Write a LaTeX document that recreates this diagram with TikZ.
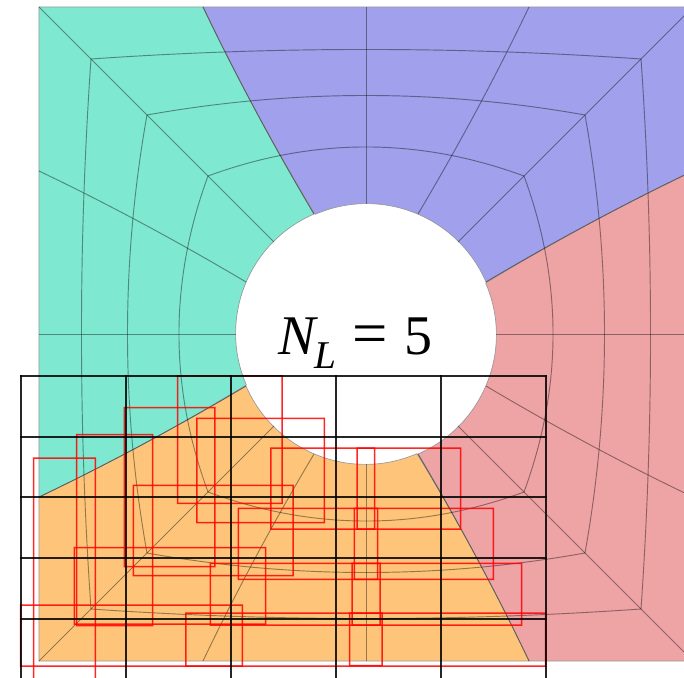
\documentclass[tikz,border=0pt]{standalone}
\usepackage{fontspec}
\setmainfont{Liberation Serif}
\definecolor{regblue}{RGB}{160,160,236}
\definecolor{regred}{RGB}{238,163,165}
\definecolor{regorange}{RGB}{254,197,122}
\definecolor{reggreen}{RGB}{127,232,208}
\tikzset{
  region/.style={draw=black!40,line width=0.5pt},
  meshline/.style={draw=black,draw opacity=0.4,line width=0.7pt},
  redbox/.style={fill=red,fill opacity=0.85,even odd rule},
  gridline/.style={fill=black,fill opacity=0.85},
}
% a red outline 1.5 px wide, from pixel corners of the reference
\newcommand{\redrect}[4]{\fill[redbox]
  ({#1-366-0.75},{334-#2+0.75}) rectangle ({#3-366+0.75},{334-#4-0.75})
  ({#1-366+0.75},{334-#2-0.75}) rectangle ({#3-366-0.75},{334-#4+0.75});}
\begin{document}
\begin{tikzpicture}[x=0.75pt,y=0.75pt]
\useasboundingbox (-366,-343) rectangle (318,334);
\begin{scope}
\clip (-366,-343) rectangle (318,334);
\foreach \rot/\col in {0/regblue,-90/regred,-180/regorange,-270/reggreen}{
  \begin{scope}[rotate=\rot]
    \path[region,fill=\col] (-163,327) -- (327,327) -- (327,163)
      .. controls (258,130) and (189,93) .. (120,52)
      arc[start angle=23.4,end angle=113.4,radius=130]
      .. controls (-93,189) and (-130,258) .. (-163,327) -- cycle;
  \end{scope}
}
\foreach \rot in {0,90,180,270}{
  \begin{scope}[rotate=\rot]
    \draw[meshline] (-275,275) .. controls (-92,287.7) and (92,287.7) .. (275,275);
    \draw[meshline] (-219,219) .. controls (-73,245) and (73,245) .. (219,219);
    \draw[meshline] (-158,158) .. controls (-52.7,196.7) and (52.7,196.7) .. (158,158);
    \draw[meshline] (0,130) -- (0,327);
    \draw[meshline] (92,92) -- (327,327);
    \draw[meshline] (52,120) .. controls (93,189) and (130,258) .. (163,327);
    \draw[meshline] (-52,120) .. controls (-93,189) and (-130,258) .. (-163,327);
  \end{scope}
}
\node[inner sep=0pt,anchor=base west,font=\fontsize{42}{42}\selectfont] (label) at (-88,-21)
  {\textit{N}\kern-3pt\raisebox{-10.5pt}{\fontsize{29.5}{29.5}\selectfont\textit{L}}\kern12.5pt{\fontsize{47}{47}\selectfont=}\kern12.5pt 5};
\redrect{33.7}{458}{95.3}{690}
\redrect{76.7}{434.7}{152.7}{625.7}
\redrect{124.3}{407.7}{215}{566.7}
\redrect{177.7}{376}{282}{503.3}
\redrect{197}{418.3}{324.3}{522.7}
\redrect{271}{448}{460.7}{529}
\redrect{133.3}{485.3}{293}{575.7}
\redrect{238.3}{508.3}{493.3}{579.3}
\redrect{74.3}{547.7}{265.7}{624}
\redrect{210.3}{563.3}{521.7}{625}
\redrect{186}{613}{545.7}{666}
\redrect{20.7}{605}{242.3}{666}
\redrect{349.7}{613}{382}{665.5}
\redrect{352}{563.3}{380}{625}
\redrect{354.3}{508.3}{377.7}{579.3}
\redrect{357}{448}{374.7}{529}
\foreach \gx in {21,126,231,336,441,546}{
  \fill[gridline] ({\gx-366-0.9},{334-375.1}) rectangle ({\gx-366+0.9},{334-690});
}
\foreach \gy in {376,437,497,558,619}{
  \fill[gridline] ({20-366},{334-\gy+0.9}) rectangle ({547-366},{334-\gy-0.9});
}
\end{scope}
\end{tikzpicture}
\end{document}
